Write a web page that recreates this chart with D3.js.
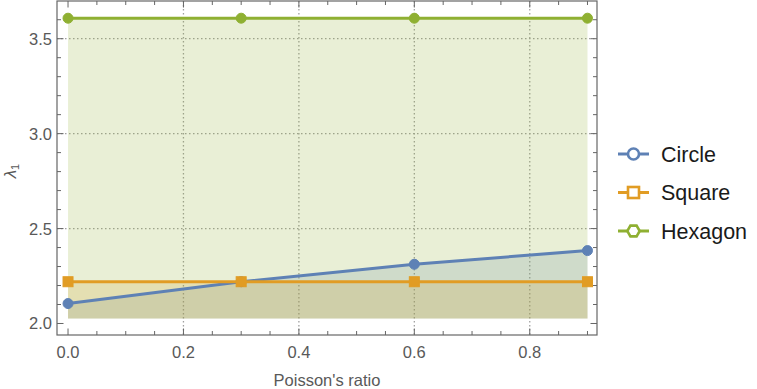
<!DOCTYPE html>
<html><head><meta charset="utf-8">
<script src="https://cdn.jsdelivr.net/npm/d3@7"></script>
<style>body{margin:0;background:#fff}svg{display:block;font-family:"Liberation Sans",Arial,sans-serif}</style>
</head><body><svg id="c" width="757" height="389"></svg>
<script>
const poisson = [0.0, 0.3, 0.6, 0.9];
const circleVals = [2.105, 2.22, 2.312, 2.384];
const squareVals = [2.22, 2.22, 2.22, 2.22];
const hexagonVals = [3.608, 3.608, 3.608, 3.608];
const seriesNames = ["Circle", "Square", "Hexagon"];
const seriesColors = ["#5E81B5", "#E19C24", "#8FB032"];
const xTicks = [0.0, 0.2, 0.4, 0.6, 0.8];
const yTicks = [2.0, 2.5, 3.0, 3.5];
const fillBase = 2.026;

const series = [
  {name: seriesNames[0], vals: circleVals, color: seriesColors[0], shape: "circle"},
  {name: seriesNames[1], vals: squareVals, color: seriesColors[1], shape: "square"},
  {name: seriesNames[2], vals: hexagonVals, color: seriesColors[2], shape: "hexagon"}
];

const svg = d3.select("#c");
const L = 57, R = 597, T = 1, B = 335;
const x = d3.scaleLinear().domain([-0.0191, 0.9165]).range([L, R]);
const y = d3.scaleLinear().domain([1.9394, 3.6986]).range([B, T]);
const frameCol = "#666";

// grid
const g = svg.append("g");
xTicks.filter(v => v > 0).forEach(v => g.append("line")
  .attr("x1", x(v)).attr("x2", x(v)).attr("y1", T).attr("y2", B)
  .attr("stroke", "#a0a0a0").attr("stroke-width", 1.3).attr("stroke-dasharray", "1.5,2.5"));
yTicks.filter(v => v > 2).forEach(v => g.append("line")
  .attr("y1", y(v)).attr("y2", y(v)).attr("x1", L).attr("x2", R)
  .attr("stroke", "#a0a0a0").attr("stroke-width", 1.3).attr("stroke-dasharray", "1.5,2.5"));

// fills
const area = d3.area().x((d, i) => x(poisson[i])).y0(y(fillBase)).y1(d => y(d));
series.forEach(s => svg.append("path").datum(s.vals).attr("d", area)
  .attr("fill", s.color).attr("fill-opacity", 0.2));

// lines
const line = d3.line().x((d, i) => x(poisson[i])).y(d => y(d));
function marker(sel, shape, cx, cy, color, open) {
  const fill = open ? "#fff" : color;
  if (shape === "circle") {
    sel.append("circle").attr("cx", cx).attr("cy", cy).attr("r", open ? 5.5 : 5)
      .attr("fill", fill).attr("stroke", color).attr("stroke-width", open ? 2.6 : 1);
  } else if (shape === "square") {
    const h = open ? 5.5 : 5;
    sel.append("rect").attr("x", cx - h).attr("y", cy - h).attr("width", 2*h).attr("height", 2*h)
      .attr("fill", fill).attr("stroke", color).attr("stroke-width", open ? 2.6 : 1);
  } else {
    if (open) {
      const r = 6.2;
      const pts = d3.range(6).map(k => [cx + r*Math.cos(k*Math.PI/3), cy + r*Math.sin(k*Math.PI/3)]);
      sel.append("polygon").attr("points", pts.map(p => p.join(",")).join(" "))
        .attr("fill", fill).attr("stroke", color).attr("stroke-width", 2.6);
    } else {
      sel.append("circle").attr("cx", cx).attr("cy", cy).attr("r", 5)
        .attr("fill", fill).attr("stroke", color).attr("stroke-width", 1);
    }
  }
}
series.forEach(s => {
  svg.append("path").datum(s.vals).attr("d", line).attr("fill", "none")
    .attr("stroke", s.color).attr("stroke-width", 3);
  const mg = svg.append("g");
  s.vals.forEach((v, i) => marker(mg, s.shape, x(poisson[i]), y(v), s.color, false));
});

// frame
svg.append("rect").attr("x", L).attr("y", T).attr("width", R - L).attr("height", B - T)
  .attr("fill", "none").attr("stroke", frameCol).attr("stroke-width", 1.2);
const ax = svg.append("g").attr("stroke", frameCol).attr("stroke-width", 1);
const xMinor = d3.range(0, 0.91, 0.05).map(v => +v.toFixed(2));
xMinor.forEach(v => {
  const major = xTicks.some(t => Math.abs(t - v) < 1e-9);
  const len = major ? 6.5 : 4;
  ax.append("line").attr("x1", x(v)).attr("x2", x(v)).attr("y1", B).attr("y2", B - len);
  ax.append("line").attr("x1", x(v)).attr("x2", x(v)).attr("y1", T).attr("y2", T + len);
});
const yMinor = d3.range(2.0, 3.65, 0.1).map(v => +v.toFixed(2));
yMinor.forEach(v => {
  const major = yTicks.some(t => Math.abs(t - v) < 1e-9);
  const len = major ? 6.5 : 4;
  ax.append("line").attr("y1", y(v)).attr("y2", y(v)).attr("x1", L).attr("x2", L + len);
  ax.append("line").attr("y1", y(v)).attr("y2", y(v)).attr("x1", R).attr("x2", R - len);
});

// tick labels
const tl = svg.append("g").attr("fill", "#595959").attr("font-size", 16.5);
xTicks.forEach(v => tl.append("text").attr("x", x(v)).attr("y", 358).attr("text-anchor", "middle").text(d3.format(".1f")(v)));
yTicks.forEach(v => tl.append("text").attr("x", 52).attr("y", y(v) + 6).attr("text-anchor", "end").text(d3.format(".1f")(v)));

// axis labels
svg.append("text").attr("x", 327).attr("y", 386).attr("text-anchor", "middle")
  .attr("fill", "#595959").attr("font-size", 16.5).text("Poisson's ratio");
const yl = svg.append("text").attr("transform", "translate(16,171) rotate(-90)")
  .attr("text-anchor", "middle").attr("fill", "#595959").attr("font-size", 17);
yl.append("tspan").attr("font-style", "italic").text("λ");
yl.append("tspan").attr("font-size", 11).attr("dy", 3).text("1");

// legend
const lg = svg.append("g");
series.forEach((s, i) => {
  const cy = 154 + i * 38.5;
  lg.append("line").attr("x1", 618).attr("x2", 649).attr("y1", cy).attr("y2", cy)
    .attr("stroke", s.color).attr("stroke-width", 3);
  marker(lg, s.shape, 633.5, cy, s.color, true);
  lg.append("text").attr("x", 661).attr("y", cy + 7.5).attr("font-size", 21.5)
    .attr("fill", "#1a1a1a").text(s.name);
});
</script></body></html>
